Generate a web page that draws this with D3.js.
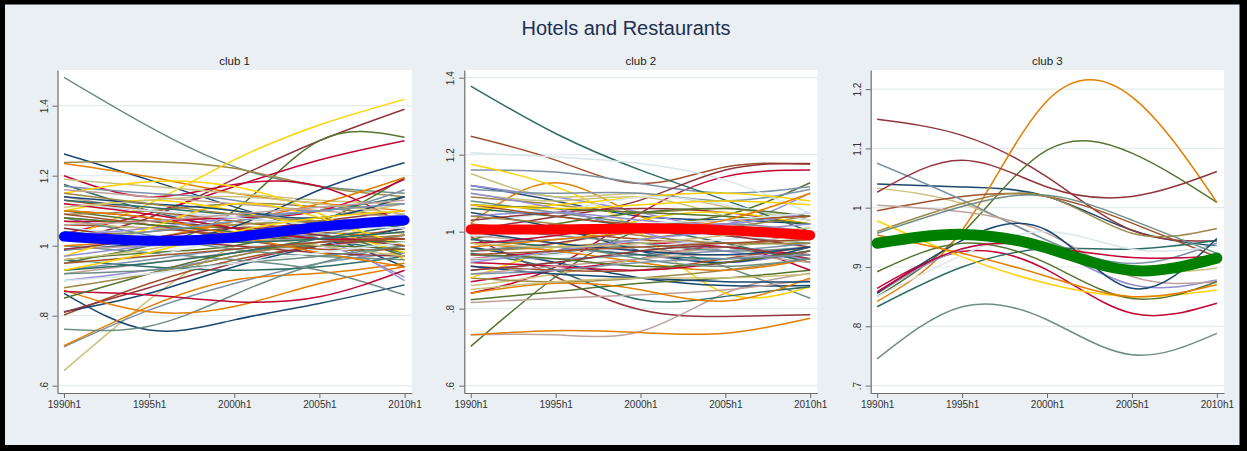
<!DOCTYPE html>
<html>
<head>
<meta charset="utf-8">
<script src="https://cdn.jsdelivr.net/npm/d3@7"></script>
<style>
  html, body { margin: 0; padding: 0; background: #000; }
  svg { display: block; }
  text { font-family: "Liberation Sans", Arial, sans-serif; }
</style>
</head>
<body>
<svg id="chart" width="1247" height="451"></svg>
<script>
// ---------------- DATA ----------------
const chartTitle = "Hotels and Restaurants";
const clubTitles = ["club 1", "club 2", "club 3"];
const periodLabels = ["1990h1", "1995h1", "2000h1", "2005h1", "2010h1"];
const periodYears = [1990, 1995, 2000, 2005, 2010];

const club1Ticks = [0.6, 0.8, 1, 1.2, 1.4];
const club2Ticks = [0.6, 0.8, 1, 1.2, 1.4];
const club3Ticks = [0.7, 0.8, 0.9, 1, 1.1, 1.2];

// relative transition paths, values at 1990h1, 1995h1, 2000h1, 2005h1, 2010h1
const club1Series = [
  [1.262, 1.188, 1.111, 1.035, 0.940],
  [1.016, 1.080, 1.190, 1.300, 1.390],
  [0.950, 1.000, 1.100, 1.300, 1.310],
  [1.235, 1.197, 1.150, 1.121, 1.100],
  [1.481, 1.340, 1.226, 1.170, 1.150],
  [1.035, 1.092, 1.169, 1.245, 1.300],
  [1.120, 1.100, 1.080, 1.060, 1.050],
  [0.643, 0.845, 0.997, 1.035, 1.035],
  [0.802, 0.892, 0.959, 1.000, 1.030],
  [0.711, 0.816, 0.892, 0.950, 0.980],
  [1.175, 1.100, 1.050, 1.020, 0.980],
  [1.238, 1.240, 1.221, 1.169, 1.140],
  [0.920, 0.950, 0.980, 1.000, 1.020],
  [1.020, 1.120, 1.245, 1.345, 1.418],
  [1.050, 1.030, 1.000, 0.990, 1.000],

  [0.864, 0.759, 0.788, 0.835, 0.888],
  [1.100, 1.080, 1.050, 1.070, 1.100],
  [1.100, 1.070, 1.050, 1.070, 1.195],
  [0.714, 0.826, 0.902, 0.921, 0.950],
  [0.761, 0.770, 0.860, 0.950, 1.000],
  [1.200, 1.140, 1.175, 1.170, 1.060],
  [0.900, 0.930, 0.970, 1.000, 0.910],
  [1.190, 1.170, 1.150, 1.130, 1.120],
  [1.060, 1.050, 1.030, 1.020, 1.050],
  [1.170, 1.150, 1.130, 1.100, 1.160],
  [0.960, 0.940, 0.930, 0.940, 0.970],
  [1.090, 1.100, 1.120, 1.110, 1.080],
  [1.140, 1.100, 1.060, 1.030, 1.000],
  [1.150, 1.183, 1.169, 1.092, 0.959],
  [1.000, 1.010, 1.030, 1.050, 1.070],

  [0.811, 0.864, 0.940, 1.000, 1.050],
  [0.810, 0.880, 0.950, 1.000, 1.020],
  [0.960, 0.980, 1.000, 1.030, 0.970],
  [0.873, 0.811, 0.826, 0.892, 0.940],
  [1.000, 0.980, 0.960, 0.930, 0.859],
  [0.869, 0.859, 0.840, 0.854, 0.930],
  [1.080, 1.060, 1.040, 1.020, 0.900],
  [1.070, 1.050, 1.060, 1.080, 1.120],
  [1.130, 1.100, 1.070, 1.040, 1.020],
  [0.930, 0.960, 0.990, 1.010, 1.030],
  [1.130, 1.110, 1.090, 1.100, 1.140],
  [1.030, 1.040, 1.060, 1.070, 1.080],
  [1.160, 1.140, 1.120, 1.100, 1.080],
  [1.100, 1.130, 1.100, 1.050, 0.980],
  [0.950, 0.970, 1.020, 1.040, 1.060],

  [0.988, 1.007, 1.054, 1.159, 1.237],
  [1.050, 1.020, 1.000, 0.980, 0.970],
  [0.850, 0.920, 0.980, 1.000, 0.990],
  [1.000, 1.020, 1.070, 1.120, 1.195],
  [1.080, 1.030, 0.990, 0.970, 0.960],
  [1.070, 1.070, 1.080, 1.100, 1.190],
  [1.030, 1.050, 1.080, 1.100, 1.120],
  [0.960, 0.990, 1.020, 1.000, 0.970],
  [1.090, 1.060, 1.020, 0.990, 0.990],
  [1.040, 1.020, 1.010, 1.030, 1.080],
  [0.930, 0.950, 0.980, 1.020, 1.060],
  [0.880, 0.920, 0.970, 1.010, 1.030],
  [0.990, 1.000, 1.010, 1.020, 1.040],
  [0.970, 1.050, 1.120, 1.080, 1.000],
  [1.120, 1.100, 1.080, 1.060, 1.050],

  [1.140, 1.120, 1.100, 1.080, 1.140],
  [0.990, 1.020, 1.050, 1.030, 1.000],
  [1.080, 1.060, 1.040, 1.020, 1.010],
  [1.100, 1.080, 1.030, 0.980, 0.940],
  [0.920, 0.930, 0.950, 0.970, 1.000],
  [1.120, 1.090, 1.050, 1.020, 1.020],
  [0.970, 1.000, 1.030, 1.060, 1.090],
  [1.110, 1.130, 1.140, 1.120, 1.090],
  [0.950, 0.970, 0.990, 1.010, 1.020],
  [1.020, 1.040, 1.070, 1.100, 1.120],
  [1.040, 1.020, 1.010, 1.020, 1.040],
  [1.150, 1.120, 1.090, 1.070, 1.060],
  [1.060, 1.070, 1.090, 1.110, 1.130],
  [0.930, 0.980, 1.040, 1.080, 1.100],
  [0.900, 0.920, 0.950, 0.980, 1.010]
];
const club1Mean = [1.026, 1.014, 1.024, 1.054, 1.073];

const club2Series = [
  [1.120, 1.080, 1.040, 1.030, 1.020],
  [0.987, 0.883, 0.797, 0.780, 0.784],
  [0.702, 0.883, 1.004, 1.043, 1.127],
  [1.022, 1.127, 1.039, 1.004, 0.996],
  [0.927, 0.944, 0.961, 0.909, 0.827],
  [0.840, 0.909, 1.048, 1.143, 1.160],
  [1.120, 1.090, 1.050, 1.020, 1.100],
  [1.151, 1.091, 1.099, 1.065, 1.030],
  [1.248, 1.186, 1.125, 1.168, 1.175],
  [1.160, 1.155, 1.125, 1.100, 1.117],
  [1.378, 1.255, 1.160, 1.082, 1.000],
  [1.090, 1.070, 1.050, 1.060, 1.030],
  [0.732, 0.732, 0.741, 0.840, 0.892],
  [1.175, 1.117, 0.996, 0.840, 0.857],
  [1.205, 1.194, 1.177, 1.134, 1.048],

  [0.960, 0.920, 0.880, 0.860, 0.860],
  [1.004, 1.039, 1.082, 1.160, 1.177],
  [0.823, 0.844, 0.866, 0.880, 0.900],
  [0.732, 0.743, 0.738, 0.736, 0.775],
  [1.080, 1.050, 1.020, 0.990, 0.970],
  [0.930, 0.950, 0.970, 0.960, 0.940],
  [0.980, 0.960, 0.940, 0.920, 0.950],
  [1.100, 1.080, 1.090, 1.040, 0.980],
  [1.020, 1.000, 0.980, 0.970, 0.980],
  [1.110, 1.100, 1.100, 1.080, 1.110],
  [0.944, 0.900, 0.823, 0.832, 0.857],
  [0.950, 0.960, 0.980, 1.010, 1.040],
  [0.816, 0.827, 0.836, 0.849, 0.875],
  [1.060, 1.070, 1.090, 1.100, 1.080],
  [1.030, 1.050, 1.090, 1.070, 1.030],

  [1.050, 1.010, 0.950, 0.920, 0.960],
  [1.030, 1.050, 1.060, 1.050, 1.020],
  [0.980, 1.020, 1.050, 1.060, 1.040],
  [0.840, 0.866, 0.849, 0.820, 0.880],
  [0.900, 0.920, 0.950, 0.960, 0.920],
  [0.870, 0.900, 0.930, 0.960, 0.900],
  [1.100, 1.060, 1.000, 0.950, 0.930],
  [0.860, 0.890, 0.930, 0.960, 0.980],
  [0.910, 0.900, 0.900, 0.930, 0.960],
  [0.970, 0.980, 1.000, 1.020, 1.000],
  [1.060, 1.040, 1.010, 0.970, 0.920],
  [0.880, 0.870, 0.880, 0.900, 0.930],
  [0.990, 0.970, 0.950, 0.960, 1.000],
  [0.880, 0.960, 1.030, 1.050, 1.020],
  [0.930, 0.940, 0.960, 0.980, 0.990],

  [0.910, 0.890, 0.880, 0.870, 0.870],
  [0.950, 0.970, 1.000, 0.990, 0.960],
  [1.070, 1.060, 1.050, 1.040, 1.020],
  [0.970, 0.950, 0.920, 0.900, 0.930],
  [1.010, 0.990, 0.970, 0.950, 0.960],
  [0.920, 0.910, 0.900, 0.920, 0.950],
  [1.040, 1.050, 1.030, 1.020, 1.050],
  [0.850, 0.870, 0.880, 0.880, 0.890],
  [1.070, 1.040, 1.020, 1.030, 1.040],
  [0.940, 0.930, 0.940, 0.950, 0.970],
  [0.980, 0.960, 0.940, 0.930, 0.940],
  [1.040, 1.020, 0.990, 0.970, 0.970],
  [0.890, 0.910, 0.930, 0.940, 0.920],
  [1.070, 1.060, 1.070, 1.080, 1.070],
  [0.990, 1.000, 1.020, 1.030, 1.050],

  [1.000, 0.970, 0.950, 0.940, 0.960],
  [0.900, 0.920, 0.950, 0.960, 0.930],
  [0.940, 0.930, 0.910, 0.920, 0.950],
  [0.960, 0.980, 1.000, 1.030, 1.100],
  [0.950, 0.960, 0.930, 0.910, 0.930],
  [0.970, 0.990, 1.020, 1.000, 0.980],
  [0.920, 0.950, 0.980, 1.000, 1.020],
  [0.970, 0.960, 0.970, 0.990, 1.010],
  [0.940, 0.950, 0.960, 0.970, 0.980],
  [0.890, 0.900, 0.920, 0.930, 0.940]
];
const club2Mean = [1.006, 1.006, 1.008, 1.004, 0.991];

const club3Series = [
  [1.040, 1.035, 1.019, 0.962, 0.935],
  [1.149, 1.122, 1.052, 0.962, 0.944],
  [0.850, 0.957, 1.097, 1.092, 1.009],
  [0.842, 0.962, 1.180, 1.187, 1.009],
  [0.745, 0.833, 0.811, 0.752, 0.788],
  [0.864, 0.926, 0.895, 0.822, 0.839],
  [0.855, 0.930, 0.930, 0.870, 0.878],
  [1.033, 1.007, 0.945, 0.895, 0.898],
  [0.995, 1.019, 1.019, 0.974, 0.917],
  [1.075, 1.013, 0.945, 0.906, 0.940],
  [0.833, 0.900, 0.931, 0.930, 0.945],
  [0.960, 1.007, 1.019, 0.957, 0.965],
  [1.004, 0.993, 0.957, 0.884, 0.875],
  [0.978, 0.917, 0.872, 0.850, 0.861],
  [0.850, 0.920, 0.960, 0.930, 0.935],
  [0.856, 0.945, 0.962, 0.864, 0.948],
  [1.026, 1.080, 1.035, 1.019, 1.061],
  [0.892, 0.940, 0.906, 0.847, 0.875],
  [0.954, 0.923, 0.884, 0.850, 0.870],
  [0.957, 1.002, 1.021, 0.979, 0.923],
  [0.858, 0.931, 0.934, 0.916, 0.918]
];
const club3Mean = [0.940, 0.955, 0.932, 0.894, 0.915];

// ---------------- STYLE / LAYOUT ----------------
const palette = ["#1a476f","#90353b","#55752f","#e37e00","#6e8e84","#c10534",
  "#938dd2","#cac27e","#a0522d","#7b92a8","#2d6d66","#9c8847","#bfa19c","#ffd200","#d9e6eb"];

const panels = [
  { title: clubTitles[0], series: club1Series, mean: club1Mean, ticks: club1Ticks,
    x0: 57.5, x1: 411.7, yDomain: [0.5791, 1.502], meanColor: "#0000ff", meanWidth: 10 },
  { title: clubTitles[1], series: club2Series, mean: club2Mean, ticks: club2Ticks,
    x0: 464.3, x1: 817.3, yDomain: [0.581, 1.42], meanColor: "#ff0000", meanWidth: 10 },
  { title: clubTitles[2], series: club3Series, mean: club3Mean, ticks: club3Ticks,
    x0: 870.7, x1: 1224, yDomain: [0.6875, 1.2322], meanColor: "#008000", meanWidth: 11 }
];
const plotTop = 70, plotBottom = 393;
const xDomain = [1989.62, 2010.42];

const svg = d3.select("#chart");
// outer frame
svg.append("rect").attr("x", 0).attr("y", 0).attr("width", 1247).attr("height", 451).attr("fill", "#000");
svg.append("rect").attr("x", 5).attr("y", 4.5).attr("width", 1234.5).attr("height", 440.5).attr("fill", "#e9eff2");

svg.append("text")
  .attr("x", 626).attr("y", 35)
  .attr("text-anchor", "middle")
  .attr("font-size", 20)
  .attr("fill", "#1e2e52")
  .text(chartTitle);

const fmt = v => {
  let s = d3.format("~g")(v);
  if (s.startsWith("0.")) s = s.slice(1);
  return s;
};

panels.forEach((p, pi) => {
  const x = d3.scaleLinear().domain(xDomain).range([p.x0, p.x1]);
  const y = d3.scaleLinear().domain(p.yDomain).range([plotBottom, plotTop]);
  const g = svg.append("g");

  // plot region
  g.append("rect")
    .attr("x", p.x0).attr("y", plotTop)
    .attr("width", p.x1 - p.x0).attr("height", plotBottom - plotTop)
    .attr("fill", "#ffffff");

  // grid lines
  g.selectAll("line.grid").data(p.ticks).join("line")
    .attr("class", "grid")
    .attr("x1", p.x0).attr("x2", p.x1)
    .attr("y1", d => y(d)).attr("y2", d => y(d))
    .attr("stroke", "#e3ebee").attr("stroke-width", 1.2);

  // subtitle
  g.append("text")
    .attr("x", (p.x0 + p.x1) / 2).attr("y", 65)
    .attr("text-anchor", "middle")
    .attr("font-size", 11.5)
    .attr("fill", "#222")
    .text(p.title);

  // clip
  const clipId = "clip" + pi;
  svg.append("clipPath").attr("id", clipId)
    .append("rect").attr("x", p.x0).attr("y", plotTop)
    .attr("width", p.x1 - p.x0).attr("height", plotBottom - plotTop);

  const line = d3.line()
    .x((d, i) => x(periodYears[i]))
    .y(d => y(d))
    .curve(d3.curveNatural);

  const lg = g.append("g").attr("clip-path", `url(#${clipId})`);
  lg.selectAll("path.series").data(p.series).join("path")
    .attr("class", "series")
    .attr("d", line)
    .attr("fill", "none")
    .attr("stroke", (d, i) => palette[i % palette.length])
    .attr("stroke-width", 1.5);

  lg.append("path")
    .datum(p.mean)
    .attr("d", line)
    .attr("fill", "none")
    .attr("stroke", p.meanColor)
    .attr("stroke-width", p.meanWidth)
    .attr("stroke-linecap", "round")
    .attr("stroke-linejoin", "round");

  // y axis
  const yAxis = d3.axisLeft(y).tickValues(p.ticks).tickFormat(fmt).tickSize(5).tickSizeOuter(0);
  const ya = g.append("g").attr("transform", `translate(${p.x0},0)`).call(yAxis);
  ya.select(".domain").attr("stroke", "#6b6b6b").attr("stroke-width", 1.2);
  ya.selectAll(".tick line").attr("stroke", "#6b6b6b");
  ya.selectAll(".tick text")
    .attr("transform", "rotate(-90)")
    .attr("x", 0).attr("y", -10).attr("dy", 0)
    .attr("text-anchor", "middle")
    .attr("font-size", 10)
    .attr("font-family", "Liberation Sans, Arial, sans-serif")
    .attr("fill", "#333");

  // x axis
  const xAxis = d3.axisBottom(x).tickValues(periodYears)
    .tickFormat((d, i) => periodLabels[i]).tickSize(5).tickPadding(3).tickSizeOuter(0);
  const xa = g.append("g").attr("transform", `translate(0,${plotBottom})`).call(xAxis);
  xa.select(".domain").attr("stroke", "#6b6b6b").attr("stroke-width", 1.2);
  xa.selectAll(".tick line").attr("stroke", "#6b6b6b");
  xa.selectAll(".tick text")
    .attr("font-size", 10)
    .attr("font-family", "Liberation Sans, Arial, sans-serif")
    .attr("fill", "#333");
});
</script>
</body>
</html>
